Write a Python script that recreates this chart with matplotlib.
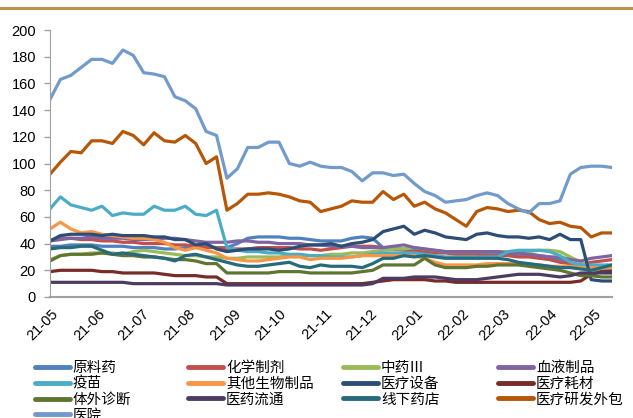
import numpy as np
import pandas as pd
import matplotlib
matplotlib.use("Agg")
import matplotlib.pyplot as plt
import matplotlib.dates as mdates
from matplotlib.lines import Line2D

# weekly observations, 2021-04-30 .. 2022-05-13
dates = pd.date_range("2021-04-30", periods=55, freq="7D")

names = ["原料药", "化学制剂", "中药Ⅲ", "血液制品", "疫苗", "其他生物制品", "医疗设备",
         "医疗耗材", "体外诊断", "医药流通", "线下药店", "医疗研发外包", "医院"]

yuanliao = [38, 38, 39, 39, 39, 38, 38, 38, 37, 37, 37, 36, 36, 37, 37, 38, 37,
            37, 40, 44, 45, 45, 45, 44, 44, 43, 42, 42, 42, 44, 45,
            44, 37, 36, 36, 35, 34, 34, 34, 34, 33, 33, 33, 33, 33, 32, 32, 31, 30, 28, 25, 22, 21, 20, 20]
huaxue = [42, 44, 44, 43, 43, 42, 42, 41, 41, 40, 40, 40, 39, 39, 38, 37, 37,
          36, 36, 36, 37, 37, 37, 37, 36, 36, 35, 36, 37, 38, 38,
          38, 37, 36, 35, 34, 34, 33, 33, 32, 32, 32, 31, 31, 31, 30, 30, 29, 28, 26, 25, 24, 26, 27, 28]
zhongyao = [28, 31, 32, 32, 33, 33, 33, 32, 34, 35, 34, 33, 32, 31, 31, 30, 30,
            29, 29, 30, 30, 30, 30, 31, 31, 31, 31, 32, 32, 33, 33,
            34, 35, 36, 36, 37, 36, 35, 34, 34, 34, 34, 34, 34, 34, 34, 34, 35, 35, 34, 30, 26, 22, 20, 18]
xueye = [42, 43, 44, 44, 45, 44, 44, 44, 43, 43, 43, 44, 44, 43, 42, 41, 41,
         41, 42, 42, 41, 41, 40, 40, 40, 39, 39, 38, 38, 38, 37,
         37, 37, 38, 39, 37, 36, 35, 34, 34, 34, 34, 34, 34, 33, 33, 32, 31, 30, 30, 28, 27, 29, 30, 31]
yimiao = [66, 75, 69, 67, 65, 68, 61, 63, 62, 62, 68, 65, 65, 68, 62, 61, 65,
          37, 35, 34, 34, 33, 33, 32, 32, 31, 31, 30, 30, 30, 31,
          32, 33, 33, 33, 33, 32, 31, 30, 30, 30, 30, 30, 30, 34, 35, 35, 35, 34, 31, 26, 24, 24, 24, 24]
qita = [51, 56, 51, 48, 49, 47, 46, 45, 44, 44, 43, 41, 37, 35, 37, 35, 33,
        29, 28, 27, 27, 28, 29, 30, 30, 28, 29, 29, 29, 30, 31,
        31, 31, 31, 31, 31, 29, 26, 24, 24, 24, 24, 25, 25, 25, 25, 24, 24, 23, 23, 23, 22, 22, 22, 22]
shebei = [42, 46, 47, 47, 47, 46, 47, 46, 46, 46, 45, 45, 43, 43, 39, 40, 36,
          34, 35, 36, 36, 36, 35, 36, 38, 39, 39, 40, 38, 40, 41,
          43, 49, 51, 53, 47, 50, 48, 45, 44, 43, 47, 48, 46, 45, 45, 44, 45, 43, 47, 43, 43, 13, 12, 12]
haocai = [19, 20, 20, 20, 20, 19, 19, 18, 18, 18, 18, 17, 16, 16, 16, 15, 15,
          10, 10, 10, 10, 10, 10, 10, 10, 10, 10, 10, 10, 10, 10,
          11, 12, 13, 13, 13, 13, 12, 12, 11, 11, 11, 11, 11, 11, 11, 11, 11, 11, 11, 11, 12, 17, 19, 19]
zhenduan = [27, 31, 32, 32, 32, 33, 32, 31, 31, 30, 30, 29, 28, 28, 27, 25, 25,
            18, 18, 18, 18, 18, 19, 19, 19, 18, 18, 18, 18, 18, 19,
            20, 24, 24, 24, 24, 29, 24, 22, 22, 22, 23, 23, 24, 24, 24, 23, 22, 21, 20, 18, 16, 16, 15, 15]
liutong = [11, 11, 11, 11, 11, 11, 11, 11, 10, 10, 10, 10, 10, 10, 10, 10, 10,
           9, 9, 9, 9, 9, 9, 9, 9, 9, 9, 9, 9, 9, 9,
           10, 14, 14, 14, 15, 15, 15, 14, 13, 13, 13, 14, 15, 16, 17, 17, 17, 16, 15, 16, 18, 18, 18, 18]
yaodian = [36, 37, 37, 38, 38, 35, 32, 33, 32, 31, 30, 29, 27, 31, 32, 30, 28,
           26, 24, 23, 23, 24, 25, 26, 23, 22, 24, 23, 23, 23, 22,
           25, 29, 29, 31, 30, 31, 30, 29, 29, 29, 29, 29, 29, 28, 26, 25, 24, 23, 22, 22, 21, 20, 22, 24]
cro = [92, 101, 109, 108, 117, 117, 115, 124, 121, 114, 123, 117, 116, 121, 115, 100, 105,
       65, 70, 77, 77, 78, 77, 75, 72, 71, 64, 66, 68, 72, 71,
       71, 79, 73, 77, 68, 71, 66, 63, 58, 53, 64, 67, 66, 64, 65, 64, 58, 55, 56, 53, 52, 45, 48, 48]
yiyuan = [148, 163, 166, 172, 178, 178, 175, 185, 181, 168, 167, 165, 150, 147, 141, 124, 121,
          89, 96, 112, 112, 116, 116, 100, 98, 101, 98, 97, 97, 94, 87,
          93, 93, 91, 92, 85, 79, 76, 71, 72, 73, 76, 78, 76, 70, 66, 63, 70, 70, 72, 92, 97, 98, 98, 97]

series = [yuanliao, huaxue, zhongyao, xueye, yimiao, qita, shebei,
          haocai, zhenduan, liutong, yaodian, cro, yiyuan]
colors = ["#4F81BD", "#C0504D", "#9BBB59", "#8064A2", "#4BACC6", "#F79646", "#2C4D75",
          "#772C2A", "#5F7530", "#4D3B62", "#276A7C", "#B65708", "#729ACA"]

plt.rcParams["font.family"] = ["Liberation Sans", "DejaVu Sans"]

fig = plt.figure(figsize=(6.33, 4.18), dpi=100)
ax = fig.add_axes([50 / 633, 1 - 297 / 418, 562 / 633, 267 / 418])

handles = []
for name, vals, c in zip(names, series, colors):
    ln, = ax.plot(dates, vals, color=c, lw=2.3, solid_joinstyle="round", label=name)
    handles.append(ln)

ax.set_ylim(0, 200)
ax.set_yticks(range(0, 201, 20))
ax.set_xlim(dates[0], dates[-1])
ax.xaxis.set_major_locator(mdates.MonthLocator())
ax.xaxis.set_major_formatter(mdates.DateFormatter("%y-%m"))
for lab in ax.get_xticklabels():
    lab.set_rotation(45)
    lab.set_ha("right")
    lab.set_rotation_mode("anchor")
ax.tick_params(axis="x", length=0, pad=7, labelsize=10.5)
ax.tick_params(axis="y", length=4, width=1, color="#A0A0A0", labelsize=10.5, pad=6)

for s in ["top", "right"]:
    ax.spines[s].set_visible(False)
ax.spines["left"].set_color("#A0A0A0")
ax.spines["bottom"].set_color("#A0A0A0")
ax.spines["bottom"].set_linewidth(1.5)

# gold rule on top
fig.add_artist(Line2D([0, 1], [1 - 8 / 418, 1 - 8 / 418], color="#C0924A", lw=2.2))

# legend: four columns placed by hand, row-major order like the original
col_x = [35, 188, 343, 498]
for j in range(4):
    idx = list(range(j, 13, 4))
    leg = fig.legend([handles[i] for i in idx], [names[i] for i in idx],
                     loc="upper left", bbox_to_anchor=(col_x[j] / 633, 1 - 361 / 418),
                     frameon=False, handlelength=2.4, handletextpad=0.2,
                     labelspacing=0.12, borderpad=0, borderaxespad=0,
                     prop={"family": ["Noto Sans CJK SC", "DejaVu Sans"], "size": 10.5})
    for h in leg.legend_handles:
        h.set_linewidth(3.5)
        h.set_solid_capstyle("round")

fig.savefig("out.png", dpi=100)
